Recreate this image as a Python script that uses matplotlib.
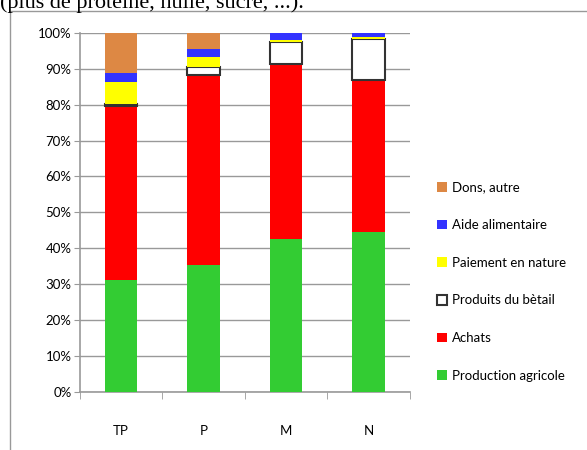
import matplotlib.pyplot as plt
from matplotlib.patches import Rectangle
from matplotlib.ticker import MultipleLocator, FuncFormatter, FixedLocator

# donnees (% des sources d'aliments par groupe)
groupes = ['TP', 'P', 'M', 'N']
production = [31.2, 35.4, 42.6, 44.6]
achats = [48.5, 52.9, 48.8, 42.3]
betail = [0.5, 2.1, 6.1, 11.4]
paiement = [6.0, 2.9, 0.6, 0.6]
aide = [2.5, 2.2, 1.9, 1.1]
dons = [11.3, 4.5, 0.0, 0.0]

series = [
    ('Production agricole', production, '#33cc33', 'none'),
    ('Achats', achats, '#ff0000', 'none'),
    ('Produits du bètail', betail, '#ffffff', '#333333'),
    ('Paiement en nature', paiement, '#ffff00', 'none'),
    ('Aide alimentaire', aide, '#3333ff', 'none'),
    ('Dons, autre', dons, '#dd8844', 'none'),
]

plt.rcParams['font.family'] = ['Lato', 'DejaVu Sans']

fig = plt.figure(figsize=(5.87, 4.5), dpi=100)
ax = fig.add_axes([0.136, 0.129, 0.562, 0.798])

# cadre du graphique (coupe en bas et a droite)
fig.patches.append(Rectangle((10 / 587, -0.05), 1.0, 1 - 11 / 450 + 0.05,
                             transform=fig.transFigure, fill=False,
                             edgecolor='#999999', linewidth=1.0))

# texte du document au-dessus (coupe)
fig.text(0.0, 1 - 8 / 450, '(plus de protéine, huile, sucre, ...).',
         family='Liberation Serif', fontsize=16, va='baseline', ha='left')

x = range(len(groupes))
bas = [0.0] * len(groupes)
handles = []
for nom, vals, coul, bord in series:
    lw = 1.5 if bord != 'none' else 0
    b = ax.bar(x, vals, bottom=bas, width=0.39, color=coul,
               edgecolor=bord, linewidth=lw, label=nom, zorder=3)
    handles.append(b)
    bas = [a + v for a, v in zip(bas, vals)]

ax.set_xlim(-0.5, 3.5)
ax.set_ylim(0, 100)
ax.yaxis.set_major_locator(MultipleLocator(10))
ax.yaxis.set_major_formatter(FuncFormatter(lambda v, p: '%d%%' % v))
ax.grid(axis='y', color='#999999', linewidth=1.0, zorder=0)

ax.set_xticks(list(x))
ax.set_xticklabels(groupes)
ax.xaxis.set_minor_locator(FixedLocator([-0.5, 0.5, 1.5, 2.5, 3.5]))
ax.tick_params(axis='x', which='major', length=0, pad=24, labelsize=9.5)
ax.tick_params(axis='x', which='minor', length=5, color='#999999', direction='out')
ax.tick_params(axis='y', length=4, color='#999999', labelsize=9.5, pad=2)

for s in ['top', 'right']:
    ax.spines[s].set_visible(False)
for s in ['left', 'bottom']:
    ax.spines[s].set_color('#999999')
    ax.spines[s].set_linewidth(1.2)

leg = fig.legend(handles[::-1], [s[0] for s in series][::-1],
                 loc='upper left', bbox_to_anchor=(432 / 587, 1 - 176 / 450),
                 frameon=False, fontsize=9.5, handlelength=0.75, handleheight=0.75,
                 handletextpad=0.4, labelspacing=1.95, borderaxespad=0)

fig.savefig('out.png', dpi=100)
